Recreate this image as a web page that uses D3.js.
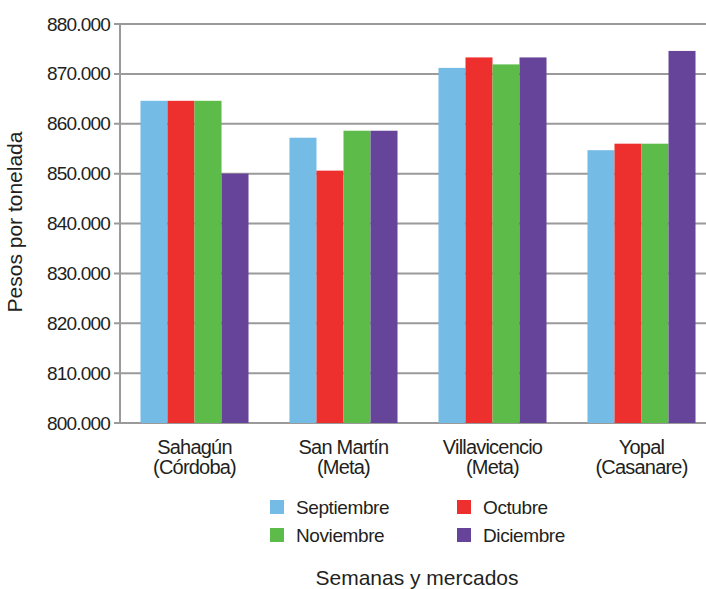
<!DOCTYPE html>
<html>
<head>
<meta charset="utf-8">
<script src="https://cdn.jsdelivr.net/npm/d3@7"></script>
<style>
  body { margin: 0; background: #fff; }
  text { font-family: "Liberation Sans", Arial, sans-serif; fill: #231f20; }
</style>
</head>
<body>
<div class="chart"></div>
<script>
var width = 706,
    height = 589;

// data
var mercados = [["Sahagún", "(Córdoba)"], ["San Martín", "(Meta)"], ["Villavicencio", "(Meta)"], ["Yopal", "(Casanare)"]];
var meses = ["Septiembre", "Octubre", "Noviembre", "Diciembre"];
var colores = ["#74bbe6", "#ed2f2e", "#5dbb4a", "#66449a"];
var septiembre = [864600, 857200, 871200, 854700];
var octubre    = [864600, 850600, 873300, 856000];
var noviembre  = [864600, 858600, 871900, 856000];
var diciembre  = [850000, 858600, 873300, 874600];
var ticks = [800000, 810000, 820000, 830000, 840000, 850000, 860000, 870000, 880000];

var series = [septiembre, octubre, noviembre, diciembre];

var svg = d3.select(".chart").append("svg")
    .attr("width", width)
    .attr("height", height);

var mLeft = 120, mTop = 24, mBottom = 423;

var x0 = d3.scaleBand()
    .domain(d3.range(mercados.length))
    .range([mLeft, 716])
    .paddingInner(0.275)
    .paddingOuter(0.1375);

var x1 = d3.scaleBand()
    .domain(d3.range(meses.length))
    .range([0, x0.bandwidth()]);

var y = d3.scaleLinear()
    .domain([800000, 880000])
    .range([mBottom, mTop]);

var fmt = function(d) { return d3.format(",")(d).replace(/,/g, "."); };

// gridlines
svg.append("g")
  .selectAll("line")
  .data(ticks)
  .join("line")
    .attr("x1", mLeft - 6)
    .attr("x2", width)
    .attr("y1", d => y(d))
    .attr("y2", d => y(d))
    .attr("stroke", "#9a9a9a")
    .attr("stroke-width", 2);

// bars
var g = svg.append("g");
mercados.forEach(function(m, i) {
  series.forEach(function(s, j) {
    g.append("rect")
      .attr("x", x0(i) + x1(j))
      .attr("y", y(s[i]))
      .attr("width", x1.bandwidth())
      .attr("height", y(800000) - y(s[i]))
      .attr("fill", colores[j]);
  });
});

// y axis
var yAxis = svg.append("g")
    .attr("transform", "translate(" + mLeft + ",0)")
    .call(d3.axisLeft(y).tickValues(ticks).tickFormat(fmt).tickSize(6).tickPadding(4));
yAxis.select(".domain").attr("stroke", "#9a9a9a").attr("stroke-width", 2).attr("d", "M0," + mTop + "V" + (mBottom + 1));
yAxis.selectAll(".tick line").remove();
yAxis.selectAll(".tick text")
    .attr("font-size", 19)
    .attr("letter-spacing", "-0.8px")
    .attr("fill", "#231f20")
    .attr("font-family", "Liberation Sans, Arial, sans-serif");

// x labels
var xl = svg.append("g");
mercados.forEach(function(m, i) {
  var cx = x0(i) + x0.bandwidth() / 2;
  var t = xl.append("text")
      .attr("y", 454)
      .attr("text-anchor", "middle")
      .attr("font-size", 20)
      .attr("letter-spacing", "-0.8px");
  t.append("tspan").attr("x", cx).text(m[0]);
  t.append("tspan").attr("x", cx).attr("dy", 20).text(m[1]);
});

// legend
var legend = svg.append("g");
meses.forEach(function(m, i) {
  var lx = i % 2 === 0 ? 270 : 457,
      ly = i < 2 ? 500 : 528;
  legend.append("rect")
    .attr("x", lx).attr("y", ly)
    .attr("width", 14).attr("height", 14)
    .attr("fill", colores[i]);
  legend.append("text")
    .attr("x", lx + 26).attr("y", ly + 14)
    .attr("font-size", 19)
    .attr("letter-spacing", "-0.4px")
    .text(m);
});

// axis titles
svg.append("text")
    .attr("x", 417).attr("y", 585)
    .attr("text-anchor", "middle")
    .attr("font-size", 21)
    .text("Semanas y mercados");

svg.append("text")
    .attr("transform", "translate(22," + 222 + ")rotate(-90)")
    .attr("text-anchor", "middle")
    .attr("font-size", 21)
    .text("Pesos por tonelada");
</script>
</body>
</html>
